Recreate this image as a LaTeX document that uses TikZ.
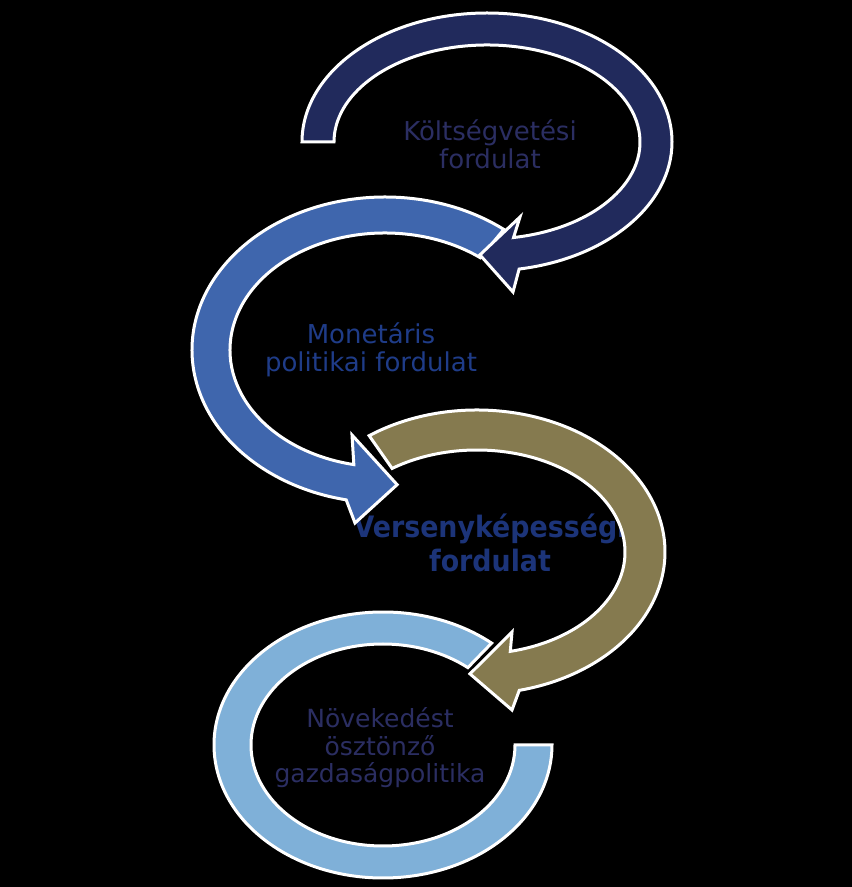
\documentclass[tikz,border=0pt]{standalone}
\usepackage{fontspec}
\setmainfont{DejaVu Sans}
\newfontfamily\narrowfont{DejaVu Sans}[FakeStretch=0.91]
\usepackage{xcolor}
\usepackage{tikz}
\usetikzlibrary{calc}
\definecolor{navyband}{HTML}{212A5C}
\definecolor{blueband}{HTML}{3F66AD}
\definecolor{oliveband}{HTML}{857A4F}
\definecolor{skyband}{HTML}{7FB0D8}
\definecolor{txtdim}{HTML}{2B2E62}
\definecolor{txtblue}{HTML}{1F3C88}
\definecolor{txtbold}{HTML}{1C3479}

\begin{document}
\begin{tikzpicture}[
    x=1pt, y=1pt,
    band/.style={draw=white, line width=3pt, line join=miter},
    lbl/.style={align=center, inner sep=0pt, font=\fontsize{26}{28}\selectfont}
]
\fill[black] (0,0) rectangle (852,887);
\useasboundingbox (0,0) rectangle (852,887);
% centres of the four bands
\coordinate (cK) at (487,745);
\coordinate (cM) at (385,537);
\coordinate (cV) at (477,335);
\coordinate (cN) at (383,142);
% labels
\node[lbl, text=txtdim] (koltseg) at (490,743) {Költségvetési\\fordulat};
\node[lbl, text=txtblue] (monetar) at (371,537) {Monetáris\\politikai fordulat};
\node[lbl, text=txtbold, font=\narrowfont\bfseries\fontsize{29.5}{34}\selectfont] (verseny) at (490,344) {Versenyképességi\\fordulat};
\node[lbl, text=txtdim, font=\fontsize{25}{27.5}\selectfont] (novekedes) at (380,139) {Növekedést\\ösztönző\\gazdaságpolitika};
% light blue ring, no head
\path[band, fill=skyband] ($(cN)+(50:169 and 133)$) arc[start angle=50, end angle=360, x radius=169, y radius=133]
    -- ($(cN)+(0:132 and 101)$) arc[start angle=360, end angle=50, x radius=132, y radius=101] -- cycle;
% olive arrow
\path[band, fill=oliveband] ($(cV)+(125:188 and 142)$) arc[start angle=125, end angle=-77, x radius=188, y radius=142]
    -- ($(cV)+(35,-158)$) -- ($(cV)+(-92.4:168 and 122)$) -- ($(cV)+(35,-80)$)
    -- ($(cV)+(-77:148 and 102)$) arc[start angle=-77, end angle=125, x radius=148, y radius=102] -- cycle;
% blue arrow
\path[band, fill=blueband] ($(cM)+(52:193 and 153)$) arc[start angle=52, end angle=258.4, x radius=193, y radius=153]
    -- ($(cM)+(-30,-173)$) -- ($(cM)+(274:174 and 135)$) -- ($(cM)+(-33,-85)$)
    -- ($(cM)+(258.4:155 and 117)$) arc[start angle=258.4, end angle=52, x radius=155, y radius=117] -- cycle;
% navy arrow
\path[band, fill=navyband] ($(cK)+(180:185 and 129)$) arc[start angle=180, end angle=-80, x radius=185, y radius=129]
    -- ($(cK)+(26,-150)$) -- ($(cK)+(-92.4:169 and 113)$) -- ($(cK)+(33,-75)$)
    -- ($(cK)+(-80:153 and 97)$) arc[start angle=-80, end angle=180, x radius=153, y radius=97] -- cycle;
\end{tikzpicture}
\end{document}
